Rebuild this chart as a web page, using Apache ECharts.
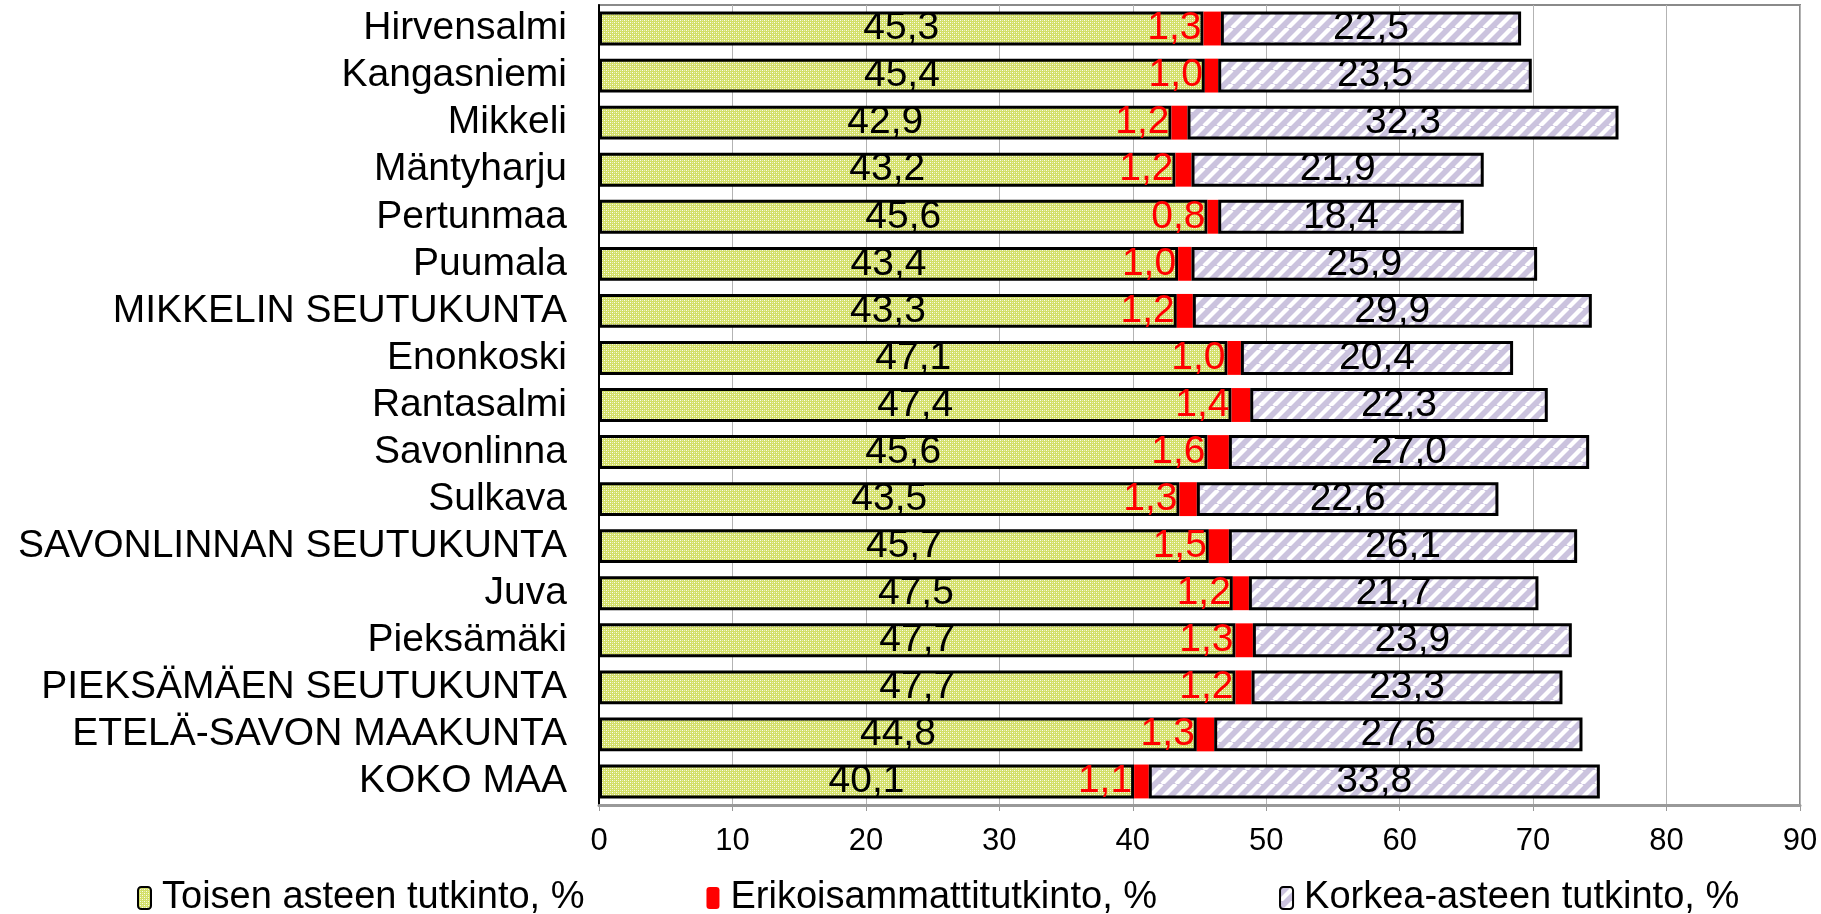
<!DOCTYPE html>
<html>
<head>
<meta charset="utf-8">
<script src="https://cdn.jsdelivr.net/npm/echarts@6/dist/echarts.min.js"></script>
<style>
html,body{margin:0;padding:0;background:#fff;}
#chart{width:1821px;height:914px;}
</style>
</head>
<body>
<div id="chart"></div>
<script>
const categories = ["Hirvensalmi","Kangasniemi","Mikkeli","Mäntyharju","Pertunmaa","Puumala","MIKKELIN SEUTUKUNTA","Enonkoski","Rantasalmi","Savonlinna","Sulkava","SAVONLINNAN SEUTUKUNTA","Juva","Pieksämäki","PIEKSÄMÄEN SEUTUKUNTA","ETELÄ-SAVON MAAKUNTA","KOKO MAA"];
const toisenAsteen = [45.3,45.4,42.9,43.2,45.6,43.4,43.3,47.1,47.4,45.6,43.5,45.7,47.5,47.7,47.7,44.8,40.1];
const erikoisammatti = [1.3,1.0,1.2,1.2,0.8,1.0,1.2,1.0,1.4,1.6,1.3,1.5,1.2,1.3,1.2,1.3,1.1];
const korkeaAsteen = [22.5,23.5,32.3,21.9,18.4,25.9,29.9,20.4,22.3,27.0,22.6,26.1,21.7,23.9,23.3,27.6,33.8];
const seriesNames = ["Toisen asteen tutkinto, %","Erikoisammattitutkinto, %","Korkea-asteen tutkinto, %"];
const xTicks = [0,10,20,30,40,50,60,70,80,90];

function greenPattern(){
  const c=document.createElement('canvas');c.width=4;c.height=4;
  const g=c.getContext('2d');
  g.fillStyle='#d3df68';g.fillRect(0,0,4,4);
  g.fillStyle='rgba(255,255,255,0.9)';
  g.fillRect(0,0,1,1);g.fillRect(2,2,1,1);
  g.fillStyle='rgba(255,255,255,0.5)';
  g.fillRect(2,0,1,1);g.fillRect(0,2,1,1);
  return {image:c,repeat:'repeat'};
}
function stripePattern(){
  const s=14;
  const c=document.createElement('canvas');c.width=s;c.height=s;
  const g=c.getContext('2d');
  g.fillStyle='#cbc3de';g.fillRect(0,0,s,s);
  g.strokeStyle='#ffffff';g.lineWidth=4.3;
  [-s,0,s].forEach(dx=>{
    g.beginPath();g.moveTo(dx,s);g.lineTo(dx+s,0);g.stroke();
  });
  return {image:c,repeat:'repeat'};
}
const fmt = p => p.value.toFixed(1).replace('.', ',');
const font = 'Liberation Sans, Arial, sans-serif';

const chart = echarts.init(document.getElementById('chart'), null, {renderer:'canvas'});
chart.setOption({
  animation:false,
  backgroundColor:'#fff',
  grid:{left:599,right:21,top:5,bottom:109,show:true,borderColor:'#8a8a8a',borderWidth:2,containLabel:false},
  legend:{
    left:132, top:874, itemWidth:13, itemHeight:22, itemGap:122,
    textStyle:{fontFamily:font,fontSize:38,color:'#000',padding:[0,0,0,6]},
    data:seriesNames
  },
  xAxis:{
    type:'value', min:0, max:90, interval:10,
    axisLine:{show:true,onZero:false,lineStyle:{color:'#999',width:3}},
    axisTick:{show:true,length:6,lineStyle:{color:'#999',width:1}},
    axisLabel:{fontFamily:font,fontSize:31,color:'#000',margin:21,formatter:v=>String(v)},
    splitLine:{show:true,lineStyle:{color:'#b3b3b3',width:1}}
  },
  yAxis:{
    type:'category', data:categories, inverse:true,
    axisLine:{show:true,lineStyle:{color:'#000',width:2}},
    axisTick:{show:false},
    axisLabel:{interval:0,fontFamily:font,fontSize:39,color:'#000',margin:32}
  },
  series:[
    {name:seriesNames[0],type:'bar',stack:'t',data:toisenAsteen,barCategoryGap:'28%',
     itemStyle:{color:greenPattern(),borderColor:'#000',borderWidth:3},
     label:{show:true,position:'inside',formatter:fmt,fontFamily:font,fontSize:39,color:'#000'}},
    {name:seriesNames[1],type:'bar',stack:'t',data:erikoisammatti,
     itemStyle:{color:'#ff0000',borderWidth:0},
     label:{show:true,position:'left',distance:2,formatter:fmt,fontFamily:font,fontSize:39,color:'#ff0000'}},
    {name:seriesNames[2],type:'bar',stack:'t',data:korkeaAsteen,
     itemStyle:{color:stripePattern(),borderColor:'#000',borderWidth:3},
     label:{show:true,position:'inside',formatter:fmt,fontFamily:font,fontSize:39,color:'#000'}}
  ]
});
</script>
</body>
</html>
